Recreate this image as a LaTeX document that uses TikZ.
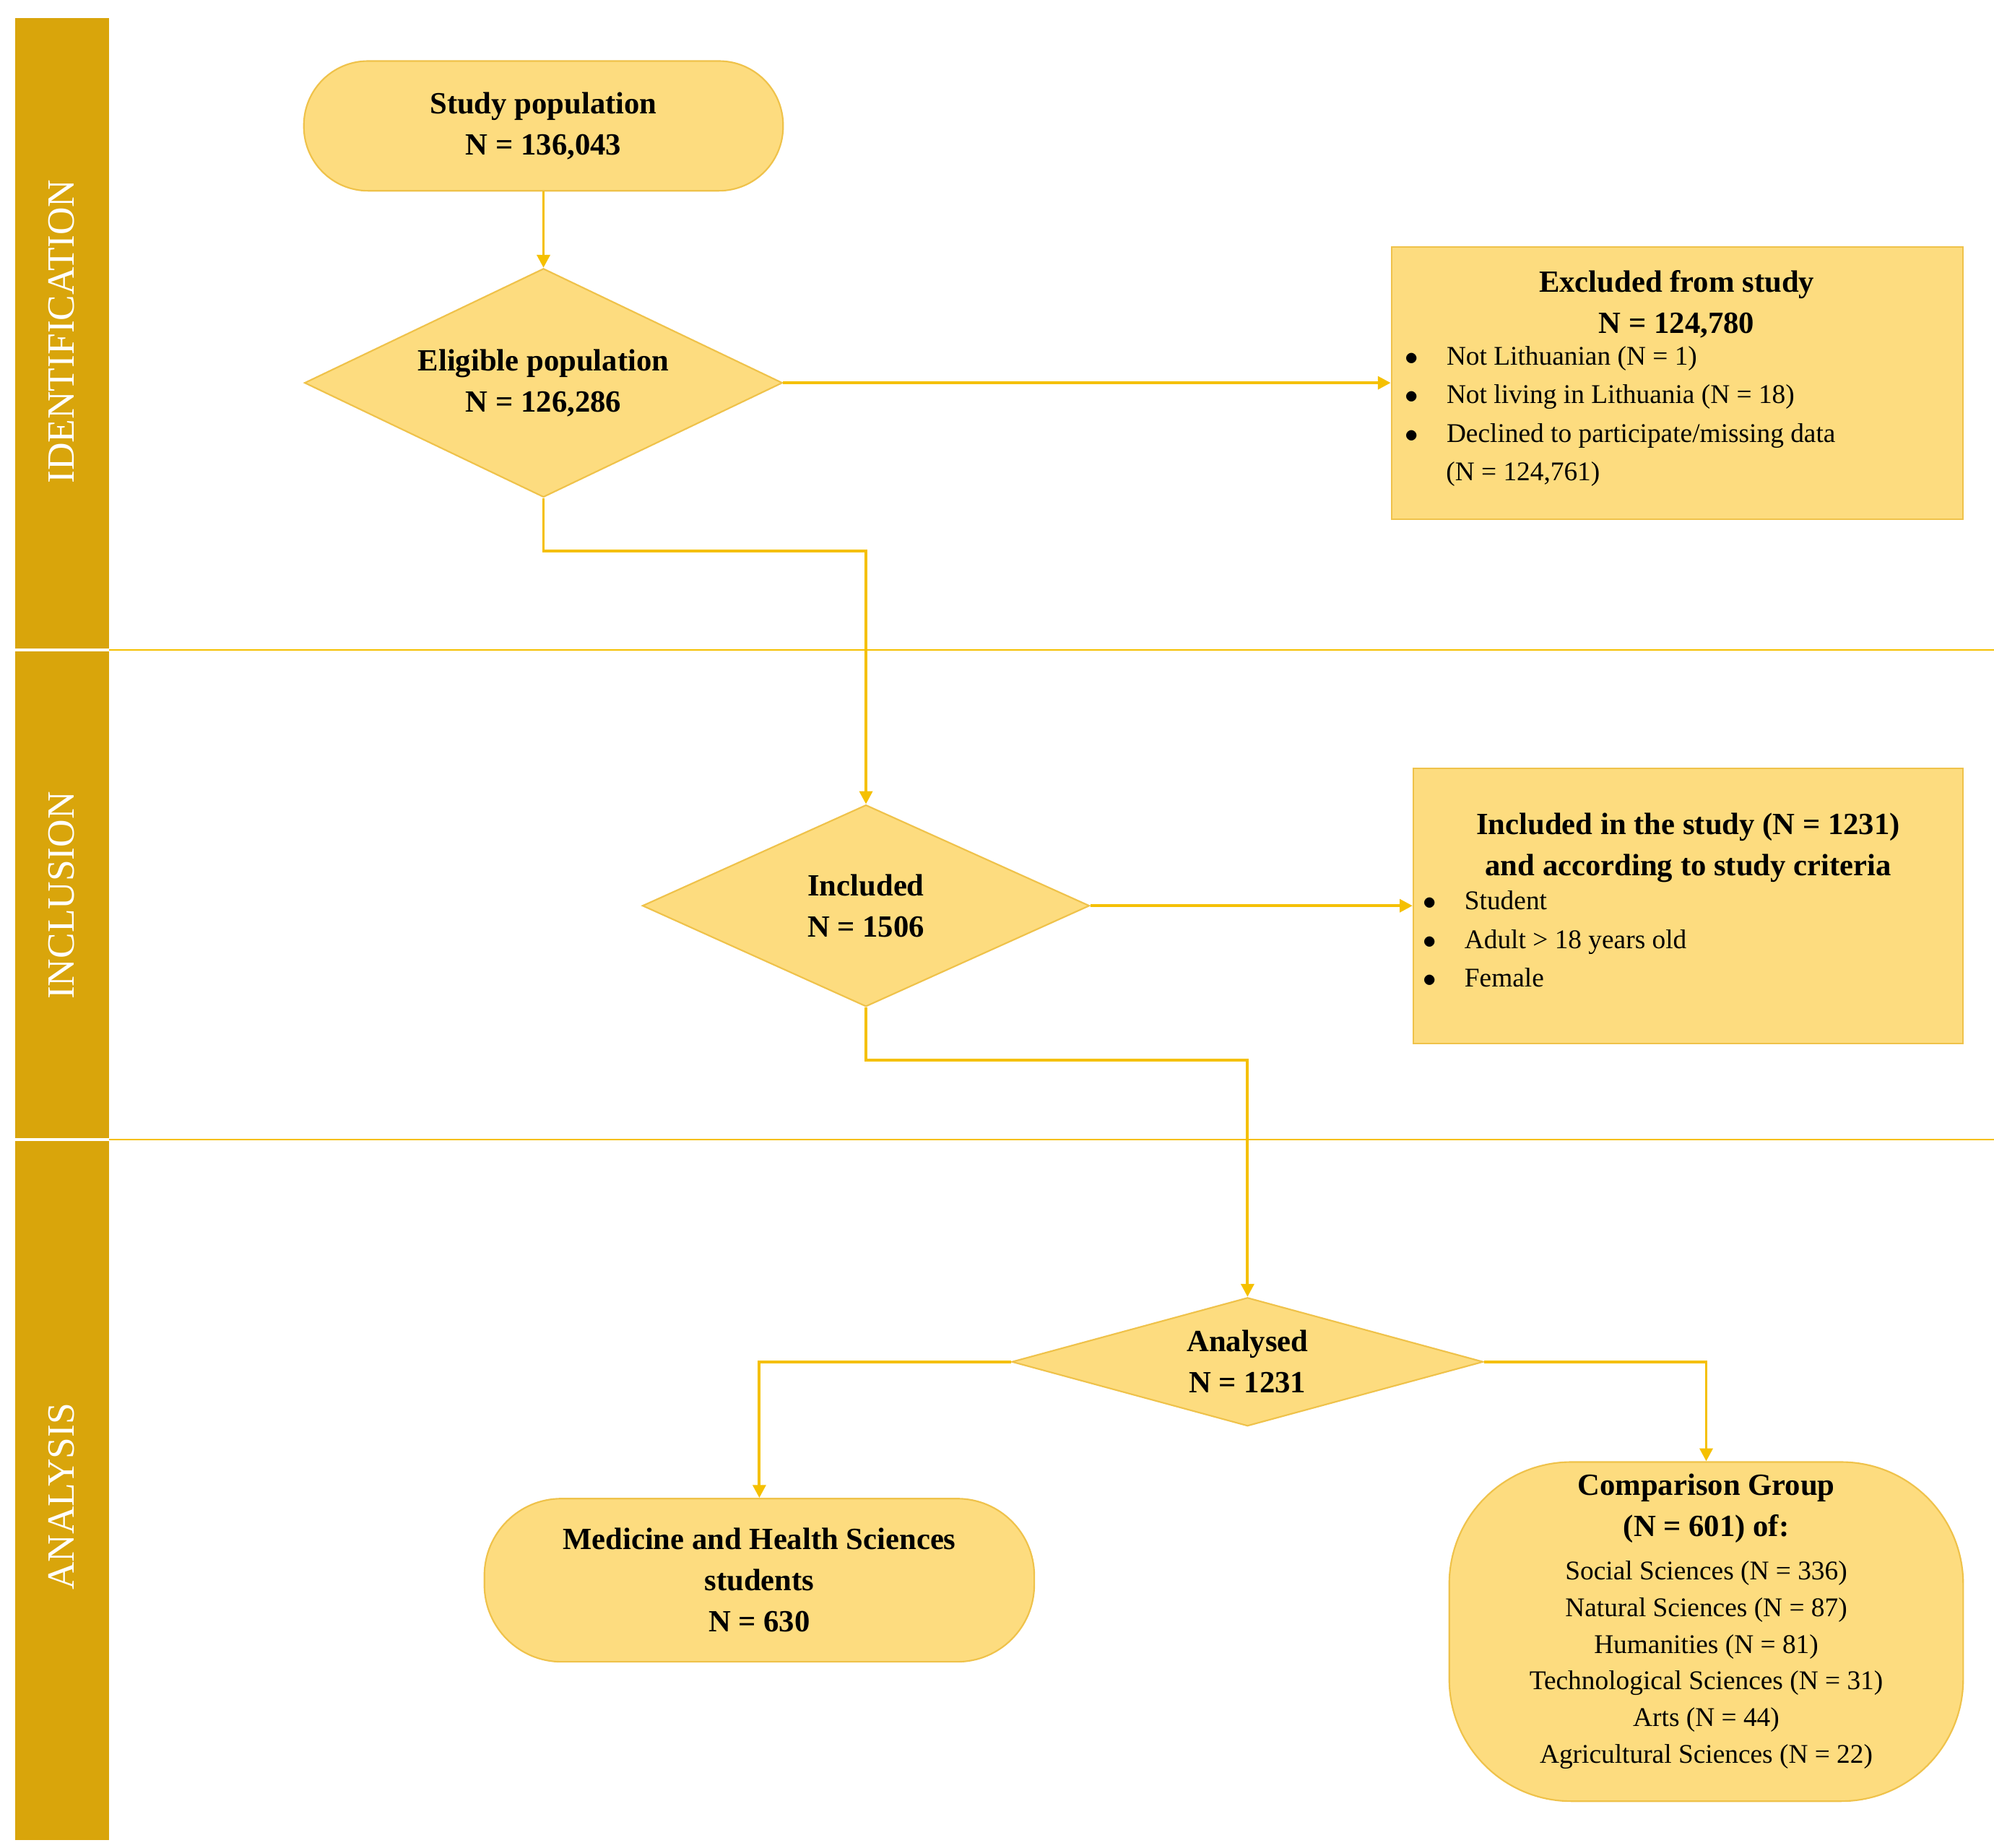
\documentclass[tikz,border=0pt]{standalone}
\usepackage{fontspec}
\setmainfont{Liberation Serif}
\usetikzlibrary{shapes.geometric,arrows.meta}
\definecolor{fillc}{HTML}{FDDC7F}
\definecolor{edgec}{HTML}{EFC24A}
\definecolor{band}{HTML}{D9A50B}
\definecolor{linec}{HTML}{F5C000}
\begin{document}
\begin{tikzpicture}[x=1pt,y=-1pt,
  box/.style={draw=edgec,fill=fillc,line width=1.2pt},
  dia/.style={box,diamond,aspect=2.1,inner sep=0pt,align=center,font=\fontsize{24}{32}\selectfont\bfseries},
  conn/.style={linec,line width=2.2pt,-{Triangle[length=10pt,width=10pt]}},
  bt/.style={font=\fontsize{24}{32}\selectfont\bfseries,align=center},
  lt/.style={font=\fontsize{21}{30}\selectfont,align=left,anchor=north west},
  bandlbl/.style={white,rotate=90,font=\fontsize{30}{30}\selectfont}]
\useasboundingbox (0,0) rectangle (1552,1438);
\fill[white] (0,0) rectangle (1552,1438);
% band
\fill[band] (12,14) rectangle (85,1432);
\draw[linec,line width=1pt] (85,506) -- (1552,506);
\draw[linec,line width=1pt] (85,887) -- (1552,887);
\draw[white,line width=2pt] (12,506) -- (85,506) (12,887) -- (85,887);
\node[bandlbl] (l1) at (48,258) {IDENTIFICATION};
\node[bandlbl] (l2) at (48,697) {INCLUSION};
\node[bandlbl] (l3) at (48,1165) {ANALYSIS};
% nodes
\node[box,rounded corners=50pt,minimum width=373pt,minimum height=101pt,bt] (sp) at (423,98) {Study population\\N = 136,043};
\node[dia,minimum width=372pt,minimum height=178pt] (el) at (423,298) {Eligible population\\N = 126,286};
\node[box,minimum width=445pt,minimum height=212pt] (ex) at (1305.5,298) {};
\node[bt] (ext) at (1305,237) {Excluded from study\\N = 124,780};
\node[lt] (exl) at (1090,266) {$\bullet$\hspace{22pt}Not Lithuanian (N = 1)\\
$\bullet$\hspace{22pt}Not living in Lithuania (N = 18)\\
$\bullet$\hspace{22pt}Declined to participate/missing data\\
\hspace{32pt}(N = 124,761)};
\node[dia,minimum width=348pt,minimum height=157pt] (inc) at (674,705) {Included\\N = 1506};
\node[box,minimum width=428pt,minimum height=214pt] (ib) at (1314,705) {};
\node[bt] (ibt) at (1314,660) {Included in the study (N = 1231)\\and according to study criteria};
\node[lt] (ibl) at (1104,690) {$\bullet$\hspace{22pt}Student\\
$\bullet$\hspace{22pt}Adult > 18 years old\\
$\bullet$\hspace{22pt}Female};
\node[dia,minimum width=367pt,minimum height=100pt,aspect=3.67] (an) at (971,1060) {Analysed\\N = 1231};
\node[box,rounded corners=60pt,minimum width=428pt,minimum height=127pt,bt] (med) at (591,1230) {Medicine and Health Sciences\\students\\N = 630};
\node[box,rounded corners=95pt,minimum width=400pt,minimum height=264pt] (cg) at (1328,1270) {};
\node[bt] (cgt) at (1328,1174) {Comparison Group\\(N = 601) of:};
\node[align=center,font=\fontsize{21}{28.5}\selectfont] (cgl) at (1328,1296) {Social Sciences (N = 336)\\Natural Sciences (N = 87)\\Humanities (N = 81)\\Technological Sciences (N = 31)\\Arts (N = 44)\\Agricultural Sciences (N = 22)};
% connectors
\draw[conn] (sp) -- (el);
\draw[conn] (el.east) -- (ex.west);
\draw[conn] (el.south) |- (674,429) -- (inc.north);
\draw[conn] (inc.east) -- (ib.west |- inc.east);
\draw[conn] (inc.south) |- (971,825) -- (an.north);
\draw[conn] (an.west) -| (med.north);
\draw[conn] (an.east) -| (cg.north);
\end{tikzpicture}
\end{document}
